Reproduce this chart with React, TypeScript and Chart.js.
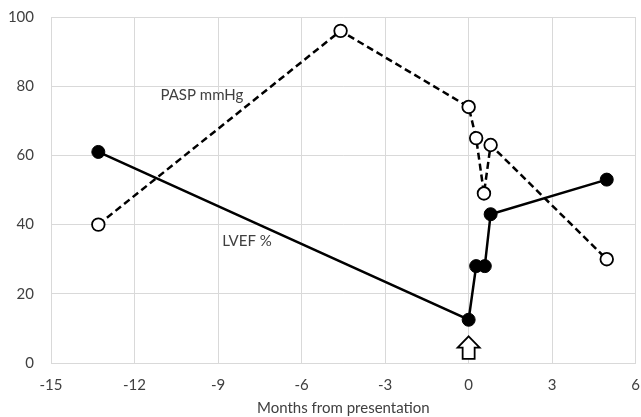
import React, { useEffect, useRef } from "react";
import { Chart, registerables } from "chart.js";

Chart.register(...registerables);

const paspX = [-13.3, -4.6, 0, 0.27, 0.55, 0.79, 4.96];
const paspY = [40, 96, 74, 65, 49, 63, 30];
const lvefX = [-13.3, 0, 0.27, 0.58, 0.79, 4.96];
const lvefY = [61, 12.5, 28, 28, 43, 53];

const xTitle = "Months from presentation";
const labelTexts = ["PASP mmHg", "LVEF %"];
const labelX = [-9.58, -7.96];
const labelY = [77.4, 35.1];

const arrowX = 0;
const arrowTipY = 7.7;
const arrowBaseY = 1.2;

const FONT = "Lato, 'Liberation Sans', sans-serif";
const RIGHT_PAD = 5.3;

const fixRightPlugin = {
  id: "fixRight",
  afterLayout(chart: any) {
    const xs = chart.scales.x;
    const target = chart.width - RIGHT_PAD;
    chart.chartArea.right = target;
    chart.chartArea.width = target - chart.chartArea.left;
    xs.right = target;
    xs.width = target - xs.left;
    xs.configure();
  },
};

const annoPlugin = {
  id: "annos",
  afterDatasetsDraw(chart: any) {
    const { ctx, scales } = chart;
    const xs = scales.x;
    const ys = scales.y;
    ctx.save();
    ctx.font = `15px ${FONT}`;
    ctx.fillStyle = "#404040";
    ctx.textAlign = "center";
    ctx.textBaseline = "middle";
    labelTexts.forEach((t, i) => {
      ctx.fillText(t, xs.getPixelForValue(labelX[i]), ys.getPixelForValue(labelY[i]));
    });
    const cx = xs.getPixelForValue(arrowX);
    const tip = ys.getPixelForValue(arrowTipY);
    const base = ys.getPixelForValue(arrowBaseY);
    const headH = (base - tip) * 0.5;
    const headW = 11;
    const shaftW = 6;
    ctx.beginPath();
    ctx.moveTo(cx, tip);
    ctx.lineTo(cx + headW, tip + headH);
    ctx.lineTo(cx + shaftW, tip + headH);
    ctx.lineTo(cx + shaftW, base);
    ctx.lineTo(cx - shaftW, base);
    ctx.lineTo(cx - shaftW, tip + headH);
    ctx.lineTo(cx - headW, tip + headH);
    ctx.closePath();
    ctx.fillStyle = "#ffffff";
    ctx.fill();
    ctx.lineWidth = 1.8;
    ctx.strokeStyle = "#000000";
    ctx.lineJoin = "miter";
    ctx.stroke();
    ctx.restore();
  },
};

export default function App() {
  const ref = useRef<HTMLCanvasElement | null>(null);
  useEffect(() => {
    document.body.style.margin = "0";
    const canvas = ref.current!;
    const chart = new Chart(canvas, {
      type: "line",
      data: {
        datasets: [
          {
            label: "LVEF %",
            data: lvefX.map((x, i) => ({ x, y: lvefY[i] })),
            borderColor: "#000000",
            borderWidth: 2.5,
            pointRadius: 6.5,
            pointBackgroundColor: "#000000",
            pointBorderColor: "#000000",
            pointBorderWidth: 1,
            tension: 0,
            order: 2,
          },
          {
            label: "PASP mmHg",
            data: paspX.map((x, i) => ({ x, y: paspY[i] })),
            borderColor: "#000000",
            borderWidth: 2.5,
            borderDash: [7, 4],
            pointRadius: 6.3,
            pointBackgroundColor: "#ffffff",
            pointBorderColor: "#000000",
            pointBorderWidth: 1.8,
            tension: 0,
            order: 1,
          },
        ],
      },
      options: {
        animation: false,
        responsive: false,
        layout: { padding: { left: 0, right: 5, top: 17, bottom: 0 } },
        plugins: { legend: { display: false }, tooltip: { enabled: false } },
        scales: {
          x: {
            type: "linear",
            min: -15,
            max: 6,
            ticks: {
              stepSize: 3,
              color: "#404040",
              font: { family: FONT, size: 15 },
              padding: 13,
            },
            grid: { color: "#d9d9d9", lineWidth: 1, drawTicks: false },
            border: { color: "#d9d9d9" },
            title: {
              display: true,
              text: xTitle,
              color: "#404040",
              font: { family: FONT, size: 15 },
              padding: { top: 4, bottom: 0 },
            },
            afterFit(scale: any) {
              scale.height = 54;
            },
          },
          y: {
            min: 0,
            max: 100,
            ticks: {
              stepSize: 20,
              color: "#404040",
              font: { family: FONT, size: 15 },
              padding: 17,
            },
            grid: { color: "#d9d9d9", lineWidth: 1, drawTicks: false },
            border: { color: "#d9d9d9" },
            afterFit(scale: any) {
              scale.width = 51;
              scale.paddingTop = 0;
              scale.paddingBottom = 0;
            },
          },
        },
      },
      plugins: [fixRightPlugin, annoPlugin],
    });
    return () => chart.destroy();
  }, []);
  return <canvas ref={ref} width={641} height={417} style={{ display: "block" }} />;
}
